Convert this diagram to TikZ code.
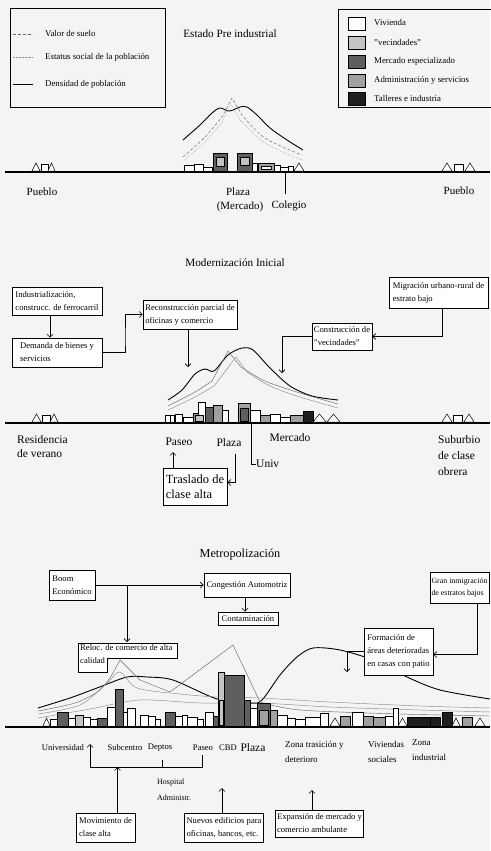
\documentclass[tikz,border=0pt]{standalone}
\usepackage{fontspec}
\setmainfont{Liberation Serif}
\usetikzlibrary{arrows.meta}
\definecolor{paper}{RGB}{244,244,244}
\definecolor{viv}{RGB}{255,255,255}
\definecolor{vec}{RGB}{195,195,195}
\definecolor{merc}{RGB}{95,95,95}
\definecolor{adm}{RGB}{160,160,160}
\definecolor{blk}{RGB}{30,30,30}
\tikzset{
 box/.style n args={2}{draw, line width=0.8pt, fill=white, align=left, inner sep=2pt, minimum width=#1, minimum height=#2, font=\fontsize{8.6}{13}\selectfont},
 arr/.style={-{Straight Barb[length=3pt,width=6pt]}, line width=0.6pt},
 ln/.style={line width=0.6pt},
 gnd/.style={line width=1.8pt},
 lbl/.style={font=\fontsize{11}{13}\selectfont, inner sep=0pt},
 slbl/.style={font=\fontsize{8.6}{13}\selectfont, inner sep=0pt, align=left},
 ttl/.style={font=\fontsize{11.2}{13}\selectfont, inner sep=0pt},
 leg/.style={font=\fontsize{8.8}{10}\selectfont, inner sep=0pt, anchor=west},
 bld/.style={draw, line width=0.5pt},
 dens/.style={line width=0.9pt},
 valor/.style={line width=0.45pt, black!60},
 estat/.style={line width=0.45pt, black!45}
}
\newcommand\mytri[3]{\draw[bld, fill=white] (#1,#3) -- ({(#1+#2)/2},#3-8) -- (#2,#3) -- cycle;}
\newcommand\mysq[3]{\draw[bld, fill=white] (#1,#3) rectangle (#2,#3-7);}
\begin{document}
\begin{tikzpicture}[x=1pt,y=-1pt]
\useasboundingbox (0,0) rectangle (490,851);
\fill[paper] (0,0) rectangle (490,851);

%================ Section 1: Estado Pre industrial
\node[draw, line width=0.8pt, minimum width=155pt, minimum height=99pt, inner sep=0pt, anchor=north west] (legL) at (10,8) {};
\draw[valor, densely dashed] (13,34) -- (33,34);
\draw[estat, densely dotted] (13,57) -- (33,57);
\draw[dens] (13,84) -- (33,84);
\node[leg] (lv) at (45,34) {Valor de suelo};
\node[leg] (le) at (45,57) {Estatus social de la población};
\node[leg] (ld) at (45,84) {Densidad de población};

\node[ttl] (t1) at (230,34) {Estado Pre industrial};

\node[draw, line width=0.8pt, minimum width=154pt, minimum height=98pt, inner sep=0pt, anchor=north west] (legR) at (338,9) {};
\foreach \y/\fc in {23/viv,42/vec,61/merc,80/adm,98/blk}
  \draw[bld, fill=\fc] (348,\y-6) rectangle (365,\y+7);
\node[leg] (r1) at (374,23) {Vivienda};
\node[leg] (r2) at (374,42) {"vecindades"};
\node[leg] (r3) at (374,61) {Mercado especializado};
\node[leg] (r4) at (374,80) {Administración y servicios};
\node[leg] (r5) at (374,98) {Talleres e industria};

% curves
\draw[dens] plot[smooth] coordinates {(183,140) (200,125) (212,113) (220,108) (228,111) (233,110) (240,107) (247,107) (257,115) (270,128) (287,140) (303,150)};
\draw[valor, densely dashed] plot[smooth] coordinates {(183,157) (205,137) (222,117)} -- (232,98) -- plot[smooth] coordinates {(242,115) (262,136) (285,148) (302,155)};
\draw[estat, densely dotted] plot[smooth] coordinates {(183,161) (205,142) (222,122)} -- (231,104) -- plot[smooth] coordinates {(240,120) (262,141) (285,153) (302,160)};

% buildings
\def\G{171}
\foreach \a/\b/\t/\fc in {184/194/165/viv,194/203/164/viv,203/212/167/viv,213/227/153/merc,237/252/153/merc,252/257/163/viv,258/274/163/adm,274/280/165/viv,280/288/167/viv,288/293/166/viv}
  \draw[bld, fill=\fc] (\a,\G) rectangle (\b,\t);
\draw[bld, fill=vec] (216,157) rectangle (224,166);
\draw[bld, fill=vec] (240,157) rectangle (249,165);
\draw[bld, fill=viv] (261,166) rectangle (271,169);
\mytri{294}{304}{171}
\mytri{32}{40}{171} \mysq{41}{48}{171} \mytri{48}{55}{171}
\mytri{442}{452}{171} \mysq{454}{463}{171} \mytri{465}{475}{171}
\draw[gnd] (5,172) -- (490,172);

\node[lbl] (pue1) at (42,192) {Pueblo};
\node[lbl] (pla1) at (238,192) {Plaza};
\node[lbl] (mer1) at (240,207) {(Mercado)};
\node[lbl] (col1) at (289,206) {Colegio};
\node[lbl] (pue2) at (459,191) {Pueblo};
\coordinate (colg) at (285,172);
\coordinate (colb) at (285,194);
\draw[ln] (colg) -- (colb);

%================ Section 2: Modernizacion Inicial
\node[ttl] (t2) at (235,263) {Modernización Inicial};

% curves
\draw[dens] plot[smooth] coordinates {(168,400) (182,390) (195,374) (205,369) (214,371) (228,355) (242,348) (253,350) (270,368) (290,386) (312,396) (338,400)};
\draw[valor] plot[smooth] coordinates {(168,406) (195,392) (212,381)} -- (228,351) -- (241,367) -- plot[smooth] coordinates {(241,367) (265,381) (300,393) (338,404)};
\draw[estat] plot[smooth] coordinates {(168,410) (195,397) (214,386)} -- (236,357) -- (247,372) -- plot[smooth] coordinates {(247,372) (270,386) (300,397) (338,408)};

\node[box={90pt}{28pt}] (ind) at (57,301) {Industrialización,\\construcc. de ferrocarril};
\node[box={90pt}{29pt}] (dem) at (57,352.5) {Demanda de bienes y\\servicios};
\node[box={94pt}{29pt}] (rec) at (190,314.5) {Reconstrucción parcial de\\oficinas y comercio};
\node[box={99pt}{31pt}] (mig) at (438.5,292.5) {Migración urbano-rural de\\estrato bajo};
\node[box={60pt}{27pt}] (con) at (342,336.5) {Construcción de\\"vecindades"};
\node[box={64pt}{37pt}, font=\fontsize{12.5}{15}\selectfont] (tras) at (195,486.5) {Traslado de\\clase alta};

\draw[arr] ([xshift=-7pt]ind.south) -- ([xshift=-7pt]dem.north);
\coordinate (dk) at (125,340);
\draw[arr] (dem.east) -| (dk) |- (rec.west);
\coordinate (recT) at (188,367);
\draw[arr] (rec.south -| recT) -- (recT);
\draw[arr] ([xshift=4pt]mig.south) |- (con.east);
\coordinate (conT) at (282,373);
\draw[arr] (con.west) -| (conT);

% buildings
\def\G{422}
\foreach \a/\b/\t/\fc in {165/170/415/viv,170/174/415/viv,175/182/414/viv,183/193/417/viv,193/205/413/adm,198/205/402/viv,205/213/407/merc,213/222/405/adm,222/228/410/viv,238/250/403/adm,250/260/410/viv,260/270/415/adm,270/280/414/viv,280/290/417/viv,290/303/415/adm,303/313/411/blk}
  \draw[bld, fill=\fc] (\a,\G) rectangle (\b,\t);
\draw[bld, fill=merc] (240,408) rectangle (248,421);
\draw[bld, fill=vec] (195,415) rectangle (203,421);
\mytri{313}{326}{422} \mytri{327}{340}{422}
\mytri{32}{41}{422} \mysq{42}{50}{422} \mytri{50}{58}{422}
\mytri{442}{452}{422} \mysq{453}{462}{422} \mytri{464}{474}{422}
\draw[gnd] (5,423) -- (490,423);

\node[lbl, align=left, anchor=north west, font=\fontsize{11.5}{14.5}\selectfont] (res) at (17,435) {Residencia\\de verano};
\node[lbl, font=\fontsize{11.5}{14}\selectfont] (pas2) at (179,442) {Paseo};
\node[lbl, font=\fontsize{11.5}{14}\selectfont] (pla2) at (229,443) {Plaza};
\node[lbl, font=\fontsize{11.5}{14}\selectfont] (mer2) at (290,438) {Mercado};
\node[lbl, anchor=west, font=\fontsize{11.5}{14}\selectfont] (univ2) at (256,464) {Univ};
\node[lbl, align=left, anchor=north west, font=\fontsize{11.5}{16}\selectfont] (sub) at (438,435) {Suburbio\\de clase\\obrera};
\coordinate (ug) at (251,423);
\draw[ln] (ug) |- (univ2.west);
\coordinate (plz2) at (235,454);
\draw[arr] (plz2) |- ([yshift=4pt]tras.east);
\draw[arr] (tras.north -| 173,0) -- (173,452);

%================ Section 3: Metropolizacion
\node[ttl, font=\fontsize{12.2}{14}\selectfont] (t3) at (240,555) {Metropolización};

% curves (drawn first, boxes cover them)
\draw[dens] plot[smooth] coordinates {(38,708) (70,698) (97,688) (127,677) (147,677) (173,680) (217,699) (250,703) (262,700) (280,675) (297,657) (313,648) (340,650) (373,660) (407,677) (440,690) (490,699)};
\draw[valor] plot[smooth] coordinates {(38,711) (75,703) (100,690) (113,673)} -- (120,660) -- (140,680) -- (170,692) -- (233,645) -- (260,702) -- plot[smooth] coordinates {(260,702) (300,710) (400,714) (490,716)};
\draw[estat] plot[smooth] coordinates {(38,714) (80,705) (107,683) (120,672) (137,688) (180,694) (217,697) (260,698) (330,702) (420,706) (490,708)};
\draw[estat] plot[smooth] coordinates {(38,718) (90,709) (140,700) (200,703) (260,703) (330,707) (420,710) (490,712)};

\node[box={46pt}{30pt}] (boom) at (72,585) {Boom\\Económico};
\node[box={86pt}{24pt}] (cong) at (247,585) {Congestión Automotriz};
\node[box={60pt}{13pt}, inner sep=1pt] (cont) at (248,618.5) {Contaminación};
\node[box={58pt}{31pt}, inner sep=1.5pt, font=\fontsize{7.9}{12.5}\selectfont] (gran) at (459.5,587.5) {Gran inmigración\\de estratos bajos};
\node[box={69pt}{47pt}] (form) at (398.5,651.5) {Formación de\\áreas deterioradas\\en casas con patio};
\node[box={59pt}{29pt}] (mov) at (105.5,827.5) {Movimiento de\\clase alta};
\node[box={78pt}{29pt}] (nue) at (224,827.5) {Nuevos edificios para\\oficinas, bancos, etc.};
\node[box={87pt}{27pt}] (exp) at (319.5,823.5) {Expansión de mercado y\\comercio ambulante};
% reloc L-shaped frame
\fill[white] (78,643) -- (177,643) -- (177,658) -- (107,658) -- (107,672) -- (78,672) -- cycle;
\node[font=\fontsize{8.6}{13}\selectfont, align=left, inner sep=0pt, anchor=north west] (reloc) at (80,644.5) {Reloc. de comercio de alta\\calidad};
\draw[line width=0.8pt] (78,643) -- (177,643) -- (177,658) -- (107,658) -- (107,672) -- (78,672) -- cycle;
\coordinate (relT) at (127,642);

\draw[arr] (boom.east) -- (cong.west);
\draw[arr] (boom.east -| relT) -- (relT);
\draw[arr] ([xshift=-2pt]cong.south) -- ([xshift=-3pt]cont.north);
\draw[arr] ([xshift=-12pt]gran.south east) |- ([yshift=-3pt]form.east);
\coordinate (fd) at (347,672);
\draw[arr] (form.west) -| (fd);

% buildings
\def\G{726}
\foreach \a/\b/\t/\fc in {50/57/719/viv,57/68/712/merc,68/75/718/viv,75/83/715/vec,83/90/717/viv,90/97/719/viv,97/107/718/merc,107/115/707/viv,115/123/689/merc,123/127/712/viv,127/135/708/viv,140/148/715/viv,148/155/716/viv,155/160/719/viv,165/175/712/merc,175/182/716/viv,182/187/715/viv,187/197/717/viv,197/203/719/viv,205/213/712/viv,213/218/716/merc,218/224/672/vec,224/244/675/merc,244/250/700/merc,250/257/708/viv,257/270/703/merc,270/277/710/adm,277/287/715/viv,287/295/718/viv,295/305/719/viv,305/320/717/viv,320/328/713/viv,340/350/716/adm,352/363/712/viv,363/373/716/adm,373/385/717/adm,385/393/716/viv,393/398/708/viv,407/430/717/blk,430/440/717/blk,442/452/712/blk,462/472/717/adm}
  \draw[bld, fill=\fc] (\a,\G) rectangle (\b,\t);
\draw[bld, fill=vec] (219,700) rectangle (223,725);
\draw[bld, fill=adm] (259,710) rectangle (268,725);
\mytri{43}{50}{726} \mytri{330}{340}{726} \mytri{398}{407}{726} \mytri{452}{460}{726} \mytri{475}{485}{726}
\draw[gnd] (5,727) -- (490,727);

\node[slbl] (uni3) at (63,748) {Universidad};
\node[slbl] (sub3) at (125,748) {Subcentro};
\node[slbl] (dep3) at (160,748) {Deptos};
\node[slbl] (pas3) at (203,748) {Paseo};
\node[slbl] (cbd3) at (228,748) {CBD};
\node[lbl, font=\fontsize{11.5}{14}\selectfont] (pla3) at (253,748) {Plaza};
\node[slbl, anchor=north west, font=\fontsize{9}{15}\selectfont] (zt3) at (285,741) {Zona trasición y\\deterioro};
\node[slbl, anchor=north west, font=\fontsize{9}{15}\selectfont] (vs3) at (368,741) {Viviendas\\sociales};
\node[slbl, anchor=north west, font=\fontsize{9}{15}\selectfont] (zi3) at (412,739) {Zona\\industrial};
\node[slbl, anchor=north west, font=\fontsize{8}{16}\selectfont] (hos3) at (157,779) {Hospital\\Administr.};

\coordinate (bL) at (90,767);
\coordinate (bM) at (162,767);
\coordinate (bR) at (202,767);
\coordinate (uT) at (90,744);
\coordinate (bMt) at (162,760);
\coordinate (bRt) at (202,755);
\draw[arr] (bL) -- (uT);
\draw[ln] (bL) -- (bR) -- (bRt);
\draw[ln] (bM) -- (bMt);
\draw[arr] ([xshift=12pt]mov.north) -- ([xshift=12pt]mov.north |- bL);
\coordinate (nT) at (222,788);
\draw[arr] (nue.north -| nT) -- (nT);
\coordinate (eT) at (312,790);
\draw[arr] (exp.north -| eT) -- (eT);
\end{tikzpicture}
\end{document}
